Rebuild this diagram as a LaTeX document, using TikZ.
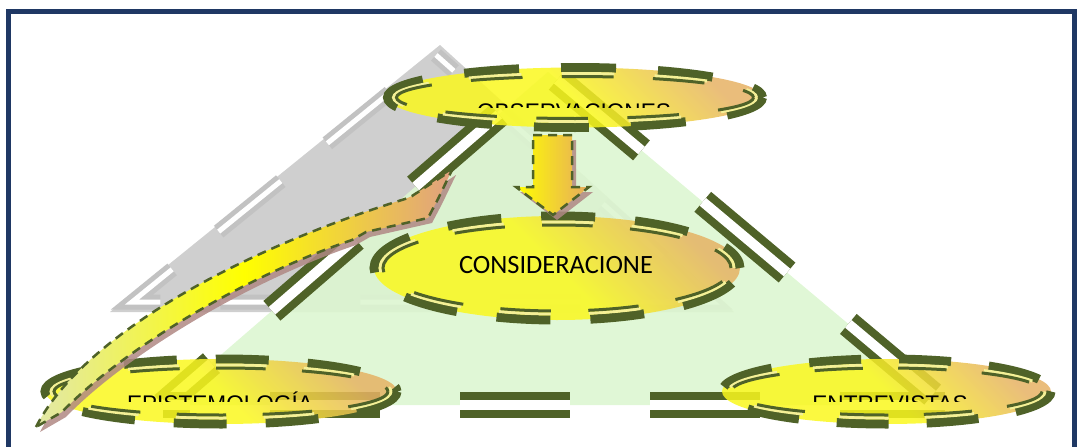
\documentclass[tikz,border=0pt]{standalone}
\usepackage{fontspec}
\setmainfont{Liberation Sans}
\newfontfamily\calibrifont{Carlito}
\definecolor{framenavy}{RGB}{31,56,100}
\definecolor{olivedk}{RGB}{79,98,40}
\definecolor{trigreen}{RGB}{221,246,209}
\definecolor{shadowgray}{RGB}{207,207,207}
\definecolor{shadowline}{RGB}{194,194,194}
\definecolor{ovalyellow}{RGB}{250,248,30}
\definecolor{ovalorange}{RGB}{230,178,100}
\definecolor{gapyellow}{RGB}{244,240,150}
\definecolor{arrowyellow}{RGB}{255,255,0}
\definecolor{arroworange}{RGB}{230,170,95}
\definecolor{arrowtail}{RGB}{226,232,168}
\definecolor{arrowhead}{RGB}{224,160,128}
\definecolor{arrowshade}{RGB}{176,136,132}
\newcommand{\ringoval}[8]{%
  \coordinate (#1) at (#2,#3);
  \shade[ovalfill] (#1) ellipse [x radius=#4pt, y radius=#5pt];
  \foreach \dd/\ww/\col in {0/9/olivedk,6/3/gapyellow,9/3/olivedk}{%
    \pgfmathsetmacro{\kk}{perim(#4-\dd,#5-\dd)/perim(#4,#5)}%
    \pgfmathsetmacro{\rX}{#4-\dd}\pgfmathsetmacro{\rY}{#5-\dd}%
    \pgfmathsetmacro{\dOn}{#6*\kk}\pgfmathsetmacro{\dOff}{#7*\kk}\pgfmathsetmacro{\dPh}{#8*\kk}%
    \draw[draw=\col, line width=\ww pt, dash pattern=on \dOn pt off \dOff pt, dash phase=\dPh pt]
      (#1) ellipse [x radius=\rX pt, y radius=\rY pt];
  }%
}
\begin{document}
\begin{tikzpicture}[x=1pt,y=-1pt,
  declare function={perim(\rA,\rB)=pi*(3*(\rA+\rB)-sqrt(3*\rA+\rB)*sqrt(\rA+3*\rB));},
  ovalfill/.style={fill opacity=0.85, top color=ovalorange, bottom color=ovalyellow, middle color=ovalyellow, shading angle=-45},
  ovaltext/.style={font=\fontsize{22.6}{26}\selectfont, text=black, inner sep=0pt, anchor=base},
  triline/.style={draw=olivedk, line width=8pt, double=white, double distance=10pt, dash pattern=on 110pt off 80pt},
  arrowline/.style={draw=olivedk, line width=2.5pt, dash pattern=on 9pt off 6pt},
  arrowshadow/.style={fill=arrowshade, fill opacity=0.85, shift={(4,5)}},
  downarrow/.style={insert path={(533,135) -- (572,135) -- (572,187) -- (589,187) -- (553,215) -- (516,187) -- (533,187) -- cycle}},
  curvearrow/.style={insert path={(36,427) .. controls (80,340) and (230,253) .. (405,199) -- (412,196) -- (452,170)
      -- (438,199) -- (428,218) -- (366,232) -- (352,240) .. controls (240,278) and (120,352) .. (62,412) -- cycle}}]
  \useasboundingbox (0,0) rectangle (1077,447);
  \coordinate (gA) at (440,45);
  \coordinate (gB) at (110,312);
  \coordinate (gC) at (734,312);
  \coordinate (sA) at (436,55);
  \coordinate (sB) at (132,302);
  \coordinate (sC) at (713,302);
  \fill[shadowgray] (gA) -- (gB) -- (gC) -- cycle;
  \draw[shadowline, line width=5pt, double=white, double distance=5pt, dash pattern=on 80pt off 60pt, dash phase=80pt]
    (sA) -- (sB) -- (sC) -- cycle;
  \coordinate (tA) at (548,72);
  \coordinate (tB) at (163,405);
  \coordinate (tC) at (945,405);
  \fill[trigreen, fill opacity=0.9] (tA) -- (tB) -- (tC) -- cycle;
  \draw[triline, dash phase=125pt] (tA) -- (tB);
  \draw[triline, dash phase=83pt] (tB) -- (tC);
  \draw[triline, dash phase=178pt] (tA) -- (tC);
  \ringoval{obs}{575}{97.5}{187.5}{30}{55}{42}{41}
  \ringoval{cons}{557}{268}{183}{52}{54}{40}{27}
  \ringoval{epis}{221}{391.5}{176}{32.5}{53}{39}{48}
  \ringoval{entr}{886.5}{391.5}{164.5}{32.5}{52}{38}{72}
  \begin{scope}
    \clip (380,60) rectangle (770,107.5);
    \node[ovaltext] (obslabel) at (574,119) {OBSERVACIONES};
  \end{scope}
  \node[ovaltext, font=\calibrifont\fontsize{26.4}{30}\selectfont] (conslabel) at (556,273) {CONSIDERACIONE};
  \begin{scope}
    \clip (40,380) rectangle (1060,401.5);
    \node[ovaltext] (epislabel) at (220,411) {EPISTEMOLOGÍA};
    \node[ovaltext] (entrlabel) at (890,411) {ENTREVISTAS};
  \end{scope}
  \fill[arrowshadow, downarrow];
  \shade[left color=arrowyellow, right color=arroworange, downarrow];
  \draw[arrowline, downarrow];
  \fill[arrowshadow, curvearrow];
  \shade[left color=arrowtail, right color=arrowhead, middle color=arrowyellow, curvearrow];
  \draw[arrowline, curvearrow];
  \draw[framenavy, line width=5pt] (8.5,11.5) rectangle (1074.5,475);
\end{tikzpicture}
\end{document}
